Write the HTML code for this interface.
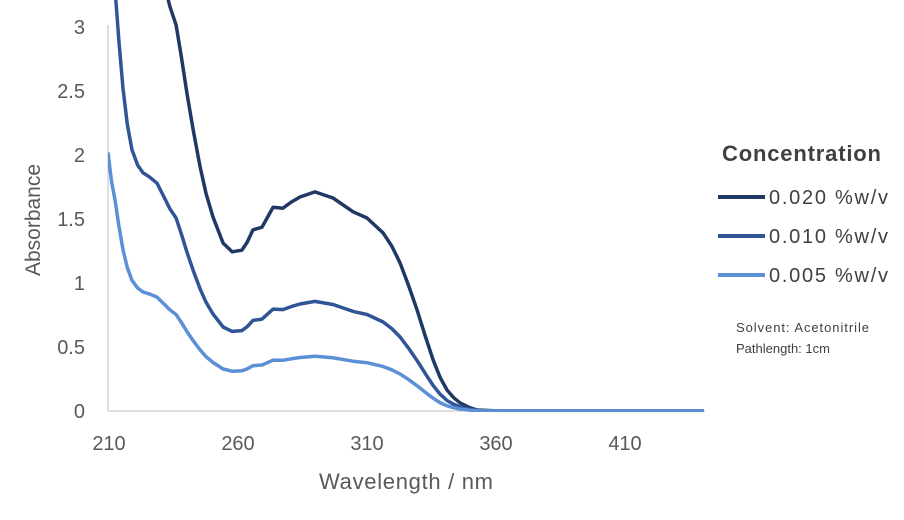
<!DOCTYPE html>
<html><head><style>
body{margin:0;background:#fff;}
svg{font-family:"Liberation Sans",sans-serif;}
</style></head><body>
<svg id="s" width="904" height="515" xmlns="http://www.w3.org/2000/svg">
<defs><clipPath id="c"><rect x="108" y="0" width="600" height="412"/></clipPath></defs>
<line x1="108" y1="411" x2="705" y2="411" stroke="#bfbfbf" stroke-width="1"/>
<line x1="108" y1="25" x2="108" y2="411" stroke="#bfbfbf" stroke-width="1"/>
<g fill="#595959" font-size="20" text-anchor="end">
<text x="85" y="34">3</text><text x="85" y="98">2.5</text><text x="85" y="162">2</text>
<text x="85" y="226">1.5</text><text x="85" y="290">1</text><text x="85" y="354">0.5</text><text x="85" y="418">0</text>
</g>
<g fill="#595959" font-size="20" text-anchor="middle">
<text x="109" y="450">210</text><text x="238" y="450">260</text><text x="367" y="450">310</text>
<text x="496" y="450">360</text><text x="625" y="450">410</text>
</g>
<text x="406" y="489" fill="#595959" font-size="22" text-anchor="middle" textLength="174">Wavelength / nm</text>
<text transform="translate(40,220) rotate(-90)" fill="#595959" font-size="21" text-anchor="middle">Absorbance</text>
<g id="curves" clip-path="url(#c)" fill="none" stroke-width="3.5" stroke-linejoin="round"></g>
<text x="722" y="161" fill="#404040" font-size="22" font-weight="bold" textLength="159">Concentration</text>
<g stroke-width="4">
<line x1="718" y1="197" x2="765" y2="197" stroke="#203864"/>
<line x1="718" y1="236" x2="765" y2="236" stroke="#2F5597"/>
<line x1="718" y1="275" x2="765" y2="275" stroke="#5B8FD6"/>
</g>
<g fill="#404040" font-size="20">
<text x="769" y="204" textLength="119">0.020 %w/v</text><text x="769" y="243" textLength="119">0.010 %w/v</text><text x="769" y="282" textLength="119">0.005 %w/v</text>
</g>
<g fill="#404040" font-size="13">
<text x="736" y="332" textLength="133">Solvent: Acetonitrile</text><text x="736" y="353" textLength="94">Pathlength: 1cm</text>
</g>
</svg>
<script>
var p=[[210,2.02],[211.3,1.8],[212.7,1.65],[214.2,1.45],[215.8,1.26],[217.5,1.12],[219.3,1.02],[221.5,0.96],[223.6,0.93],[226,0.915],[229,0.89],[231.5,0.84],[234,0.79],[236.4,0.754],[238.5,0.69],[240.6,0.621],[243,0.55],[245.7,0.477],[248,0.425],[250.7,0.379],[254.6,0.328],[258.1,0.311],[261.9,0.314],[264,0.33],[266.2,0.354],[269.7,0.359],[272,0.38],[274,0.398],[277.8,0.396],[281,0.408],[284.4,0.418],[290.2,0.428],[297.2,0.416],[305,0.389],[310.4,0.377],[316.6,0.348],[320,0.322],[323.2,0.289],[326.5,0.245],[329.8,0.197],[333,0.146],[336,0.1],[338.7,0.066],[341.4,0.041],[344,0.026],[346.4,0.016],[350,0.007],[353,0.002],[362,0],[441,0]];
var g=document.getElementById('curves');
[[4,'#203864'],[2,'#2F5597'],[1,'#5B8FD6']].forEach(function(k){
 var d='';p.forEach(function(q,i){var x=108+(q[0]-210)*2.58,y=411-q[1]*k[0]*128;d+=(i?'L':'M')+x.toFixed(1)+' '+y.toFixed(1);});
 var e=document.createElementNS('http://www.w3.org/2000/svg','path');e.setAttribute('d',d);e.setAttribute('stroke',k[1]);g.appendChild(e);
});
</script>
</body></html>
